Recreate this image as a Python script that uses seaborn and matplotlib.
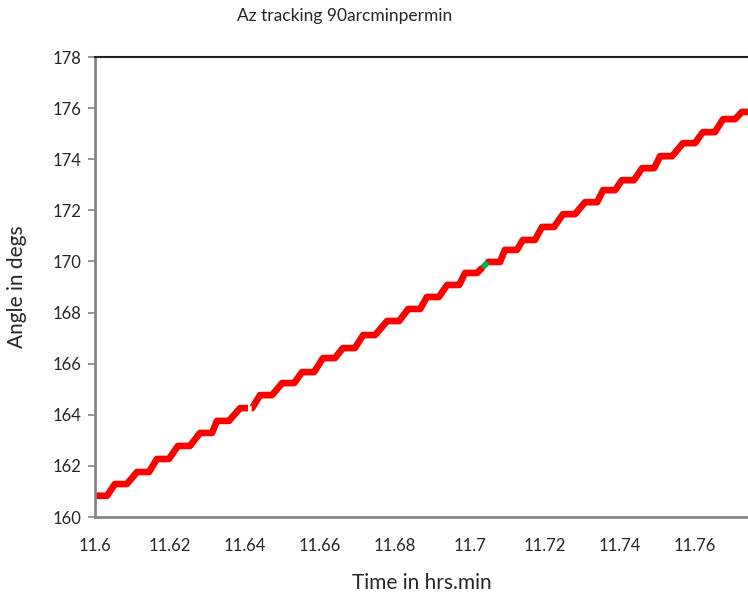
import numpy as np
import pandas as pd
import matplotlib
matplotlib.use("Agg")
import matplotlib.pyplot as plt
import seaborn as sns

# ---- data (time in hrs.min, angle in degrees) ----
flat_start = [11.6000, 11.6053, 11.6112, 11.6165, 11.6221, 11.6280, 11.6325, 11.6387,
              11.6440, 11.6499, 11.6552, 11.6608, 11.6661, 11.6715, 11.6779, 11.6835,
              11.6885, 11.6939, 11.6987, 11.7048, 11.7093, 11.7141, 11.7192, 11.7248,
              11.7307, 11.7355, 11.7405, 11.7459, 11.7507, 11.7568, 11.7621, 11.7675,
              11.7725]
flat_end = [11.6032, 11.6085, 11.6144, 11.6197, 11.6253, 11.6312, 11.6357, 11.6419,
            11.6472, 11.6531, 11.6584, 11.6640, 11.6693, 11.6747, 11.6811, 11.6867,
            11.6917, 11.6971, 11.7019, 11.7080, 11.7125, 11.7173, 11.7224, 11.7280,
            11.7339, 11.7387, 11.7437, 11.7491, 11.7539, 11.7600, 11.7653, 11.7707,
            11.7757]
angle = [160.83, 161.29, 161.76, 162.27, 162.78, 163.29, 163.76, 164.26,
         164.77, 165.24, 165.67, 166.22, 166.61, 167.12, 167.67, 168.14,
         168.61, 169.08, 169.55, 169.98, 170.45, 170.84, 171.35, 171.85,
         172.32, 172.79, 173.18, 173.65, 174.12, 174.63, 175.06, 175.57,
         175.85]
# small breaks in the red trace (green trace shows through / white gap)
red_gaps = [(11.6408, 11.6418), (11.7033, 11.7047)]
green_gaps = [(11.6408, 11.6418)]

x_ticks = [11.6, 11.62, 11.64, 11.66, 11.68, 11.7, 11.72, 11.74, 11.76]
x_tick_labels = ["11.6", "11.62", "11.64", "11.66", "11.68", "11.7", "11.72", "11.74", "11.76"]
y_ticks = [160, 162, 164, 166, 168, 170, 172, 174, 176, 178]

title = "Az tracking 90arcminpermin"
xlabel = "Time in hrs.min"
ylabel = "Angle in degs"

# ---- build the staircase path ----
px, py = [], []
for s, e, v in zip(flat_start, flat_end, angle):
    px += [s, e]
    py += [v, v]
px = np.array(px)
py = np.array(py)


def segmented(gaps):
    rows = []
    seg = 0
    bounds = sorted(gaps)
    cut_x = []
    for a, b in bounds:
        cut_x += [a, b]
    allx = sorted(set(px) | set(cut_x))
    ally = np.interp(allx, px, py)
    gi = 0
    for x, y in zip(allx, ally):
        if any(a < x < b for a, b in bounds):
            continue
        rows.append((x, y, seg))
        if gi < len(bounds) and abs(x - bounds[gi][0]) < 1e-9:
            seg += 1
            gi += 1
    return pd.DataFrame(rows, columns=["time", "angle", "seg"])


red_df = segmented(red_gaps)
green_df = segmented(green_gaps)

# ---- plot ----
sns.set_theme(style="white")
plt.rcParams["font.family"] = ["Lato", "DejaVu Sans"]

fig = plt.figure(figsize=(7.48, 5.97), dpi=100)
ax = fig.add_axes([95 / 748, 80 / 597, 653 / 748, 460 / 597])

sns.lineplot(data=green_df, x="time", y="angle", units="seg", estimator=None,
             sort=False, color="#00b050", lw=4.2, ax=ax, legend=False)
sns.lineplot(data=red_df, x="time", y="angle", units="seg", estimator=None,
             sort=False, color="#ff0000", lw=4.8, ax=ax, legend=False)
for ln in ax.lines:
    ln.set_solid_joinstyle("round")
    ln.set_solid_capstyle("butt")

ax.set_xlim(11.6, 11.6 + 653 / 3750)
ax.set_ylim(160, 178)
ax.set_xticks(x_ticks)
ax.set_xticklabels(x_tick_labels)
ax.set_yticks(y_ticks)
ax.tick_params(axis="y", left=True, direction="out", length=5, width=1.2,
               color="#868686", labelsize=12, pad=5)
ax.tick_params(axis="x", bottom=False, labelsize=12, pad=9)

for side in ["left", "bottom"]:
    ax.spines[side].set_color("#868686")
    ax.spines[side].set_linewidth(2)
ax.spines["top"].set_color("#222222")
ax.spines["top"].set_linewidth(1.5)
ax.spines["right"].set_visible(False)

ax.set_xlabel(xlabel, fontsize=15, labelpad=14)
ax.set_ylabel(ylabel, fontsize=15, labelpad=18)
fig.text(345 / 748, 1 - 16 / 597, title, ha="center", va="center", fontsize=12.5)

fig.savefig("out.png", dpi=100)
